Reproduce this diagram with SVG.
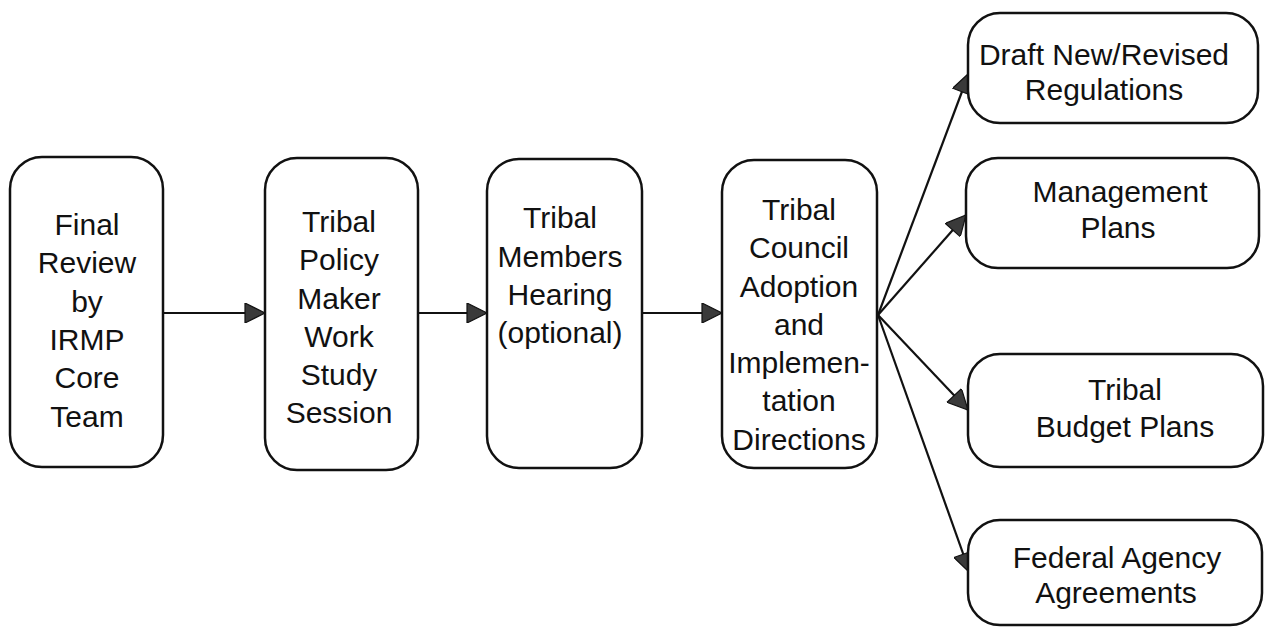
<svg xmlns="http://www.w3.org/2000/svg" width="1265" height="627" viewBox="0 0 1265 627">
<style>
.box{fill:#fff;stroke:#111;stroke-width:2.5}
.t{font-family:"Liberation Sans",Arial,sans-serif;font-size:30px;fill:#111;text-anchor:middle}
.c{stroke:#111;stroke-width:2.2;fill:none;marker-end:url(#ah)}
</style>
<defs>
<marker id="ah" viewBox="0 0 10 10" refX="10" refY="5" markerUnits="userSpaceOnUse" markerWidth="25" markerHeight="20" orient="auto">
<path d="M0,0 L10,5 L0,10 z" fill="#3a3a3a" stroke="#111" stroke-width="0.6"/>
</marker>
</defs>
<rect width="1265" height="627" fill="#fff"/>
<g id="connectors">
<line class="c" x1="163" y1="313" x2="265" y2="313"/>
<line class="c" x1="418" y1="313" x2="487" y2="313"/>
<line class="c" x1="642" y1="313" x2="722" y2="313"/>
<line class="c" x1="878" y1="315" x2="969" y2="73"/>
<line class="c" x1="878" y1="315" x2="966" y2="215"/>
<line class="c" x1="878" y1="315" x2="968" y2="410"/>
<line class="c" x1="878" y1="315" x2="970" y2="573"/>
</g>
<g id="n1">
<rect class="box" x="10" y="157" width="153" height="310" rx="32"/>
<text class="t"><tspan x="87" y="235">Final</tspan><tspan x="87" y="273">Review</tspan><tspan x="87" y="312">by</tspan><tspan x="87" y="350">IRMP</tspan><tspan x="87" y="388">Core</tspan><tspan x="87" y="427">Team</tspan></text>
</g>
<g id="n2">
<rect class="box" x="265" y="158" width="153" height="312" rx="32"/>
<text class="t"><tspan x="339" y="232">Tribal</tspan><tspan x="339" y="270">Policy</tspan><tspan x="339" y="309">Maker</tspan><tspan x="339" y="347">Work</tspan><tspan x="339" y="385">Study</tspan><tspan x="339" y="423">Session</tspan></text>
</g>
<g id="n3">
<rect class="box" x="487" y="159" width="155" height="309" rx="32"/>
<text class="t"><tspan x="560" y="228">Tribal</tspan><tspan x="560" y="267">Members</tspan><tspan x="560" y="305">Hearing</tspan><tspan x="560" y="343">(optional)</tspan></text>
</g>
<g id="n4">
<rect class="box" x="722" y="160" width="155" height="308" rx="32"/>
<text class="t"><tspan x="799" y="220">Tribal</tspan><tspan x="799" y="258">Council</tspan><tspan x="799" y="297">Adoption</tspan><tspan x="799" y="335">and</tspan><tspan x="799" y="373">Implemen-</tspan><tspan x="799" y="411">tation</tspan><tspan x="799" y="450">Directions</tspan></text>
</g>
<g id="n5">
<rect class="box" x="968" y="13" width="290" height="110" rx="32"/>
<text class="t"><tspan x="1104" y="65">Draft New/Revised</tspan><tspan x="1104" y="100">Regulations</tspan></text>
</g>
<g id="n6">
<rect class="box" x="966" y="158" width="293" height="110" rx="32"/>
<text class="t"><tspan x="1120" y="202">Management</tspan><tspan x="1118" y="238">Plans</tspan></text>
</g>
<g id="n7">
<rect class="box" x="968" y="354" width="295" height="113" rx="32"/>
<text class="t"><tspan x="1125" y="400">Tribal</tspan><tspan x="1125" y="437">Budget Plans</tspan></text>
</g>
<g id="n8">
<rect class="box" x="968" y="520" width="294" height="105" rx="32"/>
<text class="t"><tspan x="1117" y="568">Federal Agency</tspan><tspan x="1116" y="603">Agreements</tspan></text>
</g>
</svg>
